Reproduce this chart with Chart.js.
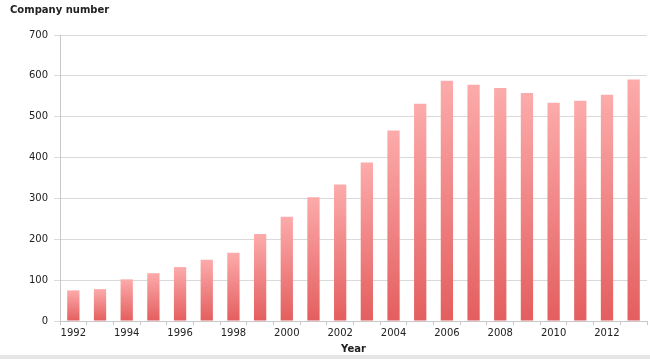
<!DOCTYPE html>
<html>
<head>
<meta charset="utf-8">
<script src="https://cdn.jsdelivr.net/npm/chart.js@4/dist/chart.umd.min.js"></script>
<style>
  html, body { margin: 0; padding: 0; background: #fff; }
  #wrap { width: 650px; height: 359px; position: relative; box-sizing: border-box; border-bottom: 4px solid #e6e6e6; }
</style>
</head>
<body>
<div id="wrap"><canvas id="myChart"></canvas></div>
<script>
const years = ['1992','1993','1994','1995','1996','1997','1998','1999','2000','2001','2002',
               '2003','2004','2005','2006','2007','2008','2009','2010','2011','2012','2013'];
const companyNumber = [75, 78, 102, 117, 132, 150, 167, 213, 255, 303, 334,
                       388, 466, 532, 588, 578, 570, 558, 534, 539, 554, 591];
const yTicks = [0, 100, 200, 300, 400, 500, 600, 700];

const barFill = (ctx) => {
    const chart = ctx.chart;
    const y = chart.scales.y;
    if (!y || ctx.type !== 'data') return '#ec7b7b';
    const top = y.getPixelForValue(ctx.raw);
    const bottom = y.getPixelForValue(0);
    if (!isFinite(top) || !isFinite(bottom) || top === bottom) return '#ec7b7b';
    const g = chart.ctx.createLinearGradient(0, top, 0, bottom);
    g.addColorStop(0, '#fcabab');
    g.addColorStop(1, '#e45e5e');
    return g;
};

const ctx = document.getElementById('myChart');
new Chart(ctx, {
    type: 'bar',
    data: {
        labels: years,
        datasets: [{
            label: 'Company number',
            data: companyNumber,
            backgroundColor: barFill,
            borderWidth: 0,
            categoryPercentage: 1,
            barPercentage: 0.46
        }]
    },
    options: {
        responsive: true,
        maintainAspectRatio: false,
        animation: false,
        layout: { padding: { left: 10, right: 3, top: 0, bottom: 0 } },
        plugins: {
            legend: { display: false },
            tooltip: { enabled: false },
            title: {
                display: true,
                text: 'Company number',
                align: 'start',
                color: '#222',
                font: { family: 'DejaVu Sans', size: 10, weight: 'bold' },
                padding: { top: 4, bottom: 19 }
            }
        },
        scales: {
            x: {
                afterFit: (s) => { s.height = 34; },
                grid: { display: true, drawOnChartArea: false, offset: true, tickLength: 4, color: '#c8c8c8' },
                border: { color: '#c8c8c8' },
                ticks: {
                    autoSkip: false,
                    maxRotation: 0,
                    color: '#222',
                    font: { family: 'DejaVu Sans', size: 10 },
                    padding: 2,
                    callback: (v, i) => (i % 2 === 0 ? years[i] : '')
                },
                title: {
                    display: true,
                    text: 'Year',
                    color: '#222',
                    font: { family: 'DejaVu Sans', size: 10, weight: 'bold' },
                    padding: { top: 0, bottom: 0 }
                }
            },
            y: {
                min: 0,
                max: 700,
                afterBuildTicks: (s) => { s.ticks = yTicks.map(v => ({ value: v })); },
                afterFit: (s) => { s.width = 50; },
                grid: { color: '#d9d9d9', tickLength: 6 },
                border: { color: '#c8c8c8' },
                ticks: {
                    color: '#222',
                    font: { family: 'DejaVu Sans', size: 10 },
                    padding: 6
                }
            }
        }
    }
});
</script>
</body>
</html>
